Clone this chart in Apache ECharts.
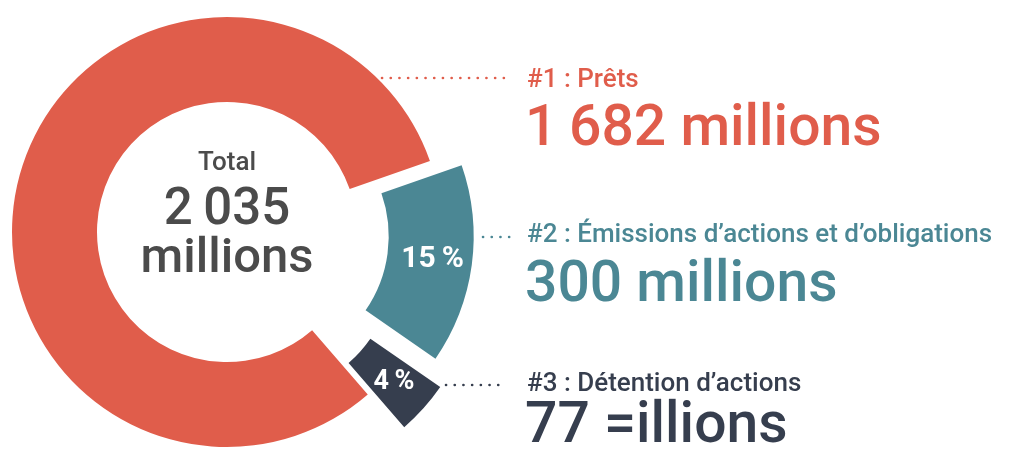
<!DOCTYPE html>
<html>
<head>
<meta charset="utf-8">
<script src="https://cdn.jsdelivr.net/npm/echarts@6/dist/echarts.min.js"></script>
<style>
  html, body { margin: 0; padding: 0; background: #fff; }
  #chart { width: 1013px; height: 457px; }
</style>
</head>
<body>
<div id="chart"></div>
<script>
// data
const categories = ['Prêts', 'Émissions d’actions et d’obligations', 'Détention d’actions'];
const percents = [81, 15, 4];
const amounts = ['1\u2009682 millions', '300 millions', '77 =illions'];
const totalLabel = '2\u2009035';
const colors = ['#e05d4b', '#4b8794', '#363e4e'];
const explode = [0, 32, 49];

const FONT = 'Roboto, "DejaVu Sans", sans-serif';
const center = [227, 232];

// one pie per slice so each slice can be pulled out by its own distance
const series = categories.map((name, k) => ({
  type: 'pie',
  center: center,
  radius: [130, 215],
  startAngle: -49.1,
  clockwise: true,
  silent: true,
  selectedMode: 'multiple',
  selectedOffset: explode[k],
  avoidLabelOverlap: false,
  animation: false,
  labelLine: { show: false },
  data: categories.map((c, i) => ({
    name: c,
    value: percents[i],
    selected: i === k && explode[k] > 0,
    itemStyle: { color: i === k ? colors[i] : 'rgba(0,0,0,0)' },
    select: { itemStyle: { color: i === k ? colors[i] : 'rgba(0,0,0,0)' } },
    label: {
      show: i === k && k > 0,
      position: 'inside',
      formatter: p => p.value + '\u2009%',
      color: '#fff',
      fontFamily: FONT,
      fontWeight: 'bold',
      fontSize: k === 2 ? 27 : 30
    }
  }))
}));

function txt(x, y, text, size, color, weight, align) {
  return {
    type: 'text',
    x: x, y: y,
    silent: true,
    style: {
      text: text,
      fontFamily: FONT,
      fontSize: size,
      fontWeight: weight || 500,
      fill: color,
      textAlign: align || 'left',
      textVerticalAlign: 'middle'
    }
  };
}
function dots(x1, x2, y, color) {
  return {
    type: 'line',
    silent: true,
    shape: { x1: x1, y1: y, x2: x2, y2: y },
    style: { stroke: color, lineWidth: 2.6, lineDash: [0.1, 8.6], lineCap: 'round' }
  };
}

const graphics = [
  txt(287, 72, percents[0] + '\u2009%', 30, '#fff', 'bold', 'center'),
  txt(227, 163, 'Total', 26, '#4b4b4b', 500, 'center'),
  txt(227, 211, totalLabel, 51, '#4b4b4b', 500, 'center'),
  txt(227, 260, 'millions', 49, '#4b4b4b', 500, 'center'),

  dots(382, 510, 78, colors[0]),
  txt(527, 80, '#1 : ' + categories[0], 26, colors[0], 500),
  txt(525, 131, amounts[0], 57, colors[0], 500),

  dots(483, 510, 237, colors[1]),
  txt(527, 235, '#2 : ' + categories[1], 26, colors[1], 500),
  txt(525, 287, amounts[1], 57, colors[1], 500),

  dots(446, 500, 385, colors[2]),
  txt(527, 384, '#3 : ' + categories[2], 26, colors[2], 500),
  txt(525, 428, amounts[2], 57, colors[2], 500)
];

const chart = echarts.init(document.getElementById('chart'));
chart.setOption({
  backgroundColor: '#fff',
  animation: false,
  series: series,
  graphic: graphics
});
</script>
</body>
</html>
